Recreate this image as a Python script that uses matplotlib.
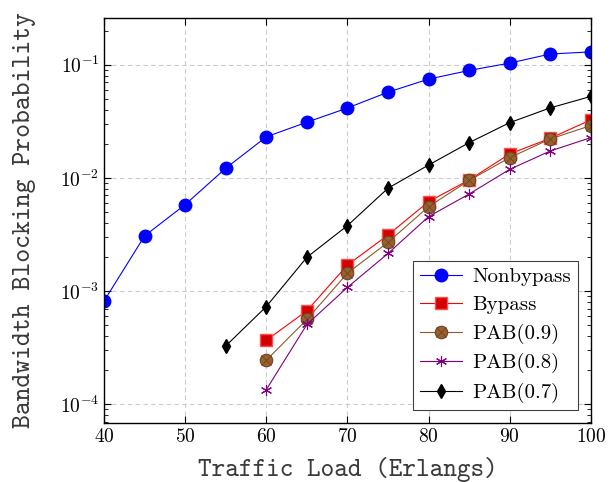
import matplotlib
matplotlib.use("Agg")
import matplotlib.pyplot as plt
from matplotlib.legend_handler import HandlerTuple

# Datos
load = [40, 45, 50, 55, 60, 65, 70, 75, 80, 85, 90, 95, 100]
nonbypass = [8.2e-4, 3.08e-3, 5.82e-3, 1.22e-2, 2.31e-2, 3.11e-2, 4.15e-2,
             5.73e-2, 7.47e-2, 8.91e-2, 0.1035, 0.1245, 0.130]

load_bp = [60, 65, 70, 75, 80, 85, 90, 95, 100]
bypass = [3.68e-4, 6.7e-4, 1.70e-3, 3.13e-3, 6.17e-3, 9.6e-3, 1.63e-2, 2.24e-2, 3.26e-2]
pab09 = [2.45e-4, 5.62e-4, 1.44e-3, 2.70e-3, 5.57e-3, 9.5e-3, 1.51e-2, 2.21e-2, 2.90e-2]
pab08 = [1.35e-4, 5.07e-4, 1.08e-3, 2.15e-3, 4.55e-3, 7.21e-3, 1.19e-2, 1.73e-2, 2.27e-2]

load_07 = [55, 60, 65, 70, 75, 80, 85, 90, 95, 100]
pab07 = [3.28e-4, 7.31e-4, 1.99e-3, 3.79e-3, 8.11e-3, 1.30e-2, 2.05e-2, 3.08e-2,
         4.16e-2, 5.25e-2]

x_ticks = [40, 50, 60, 70, 80, 90, 100]

plt.rcParams['mathtext.fontset'] = 'cm'
plt.rcParams['font.family'] = 'cmr10'
plt.rcParams['axes.formatter.use_mathtext'] = True

fig = plt.figure(figsize=(6.09, 4.82), dpi=100)
ax = fig.add_axes([0.171, 0.123, 0.799, 0.840])

brown = '#8c5a2e'
purple = '#800080'

l1, = ax.plot(load, nonbypass, color='blue', lw=0.8, marker='o', ms=9,
              mfc='blue', mec='blue')
l2, = ax.plot(load_bp, bypass, color='red', lw=0.8, marker='s', ms=8,
              mfc='#d40000', mec='#ff5050', mew=1.0)
l3, = ax.plot(load_bp, pab09, color=brown, lw=0.8, marker='o', ms=9,
              mfc='#99602e', mec='#6b4422', mew=0.8)
l3x, = ax.plot(load_bp, pab09, ls='none', marker='x', ms=6.5,
               mec='#6b4422', mew=0.6)
l4, = ax.plot(load_bp, pab08, color=purple, lw=0.8, marker=(6, 2, 0), ms=8,
              mec=purple, mew=0.8)
l5, = ax.plot(load_07, pab07, color='black', lw=0.8, marker='d', ms=7.5,
              mfc='black', mec='black')

ax.set_yscale('log')
ax.set_xlim(40, 100)
ax.set_ylim(6.87e-5, 0.26)
ax.set_xticks(x_ticks)
ax.set_xticklabels([f'${v}$' for v in x_ticks])
ax.set_yticks([1e-4, 1e-3, 1e-2, 1e-1])

ax.grid(True, which='major', color='#cccccc', ls=(0, (4, 3)), lw=0.8)
ax.tick_params(which='both', direction='in', top=True, right=True,
               labelsize=14)
ax.tick_params(which='major', length=5, width=0.8)
ax.tick_params(which='minor', length=3, width=0.6)
for s in ax.spines.values():
    s.set_linewidth(1.0)

ax.set_xlabel('Traffic Load (Erlangs)', fontfamily='cmtt10', fontsize=18.7,
              color='#3a3a3a', labelpad=8)
ax.set_ylabel('Bandwidth Blocking Probability', fontfamily='cmtt10',
              fontsize=19, color='#3a3a3a', labelpad=17)

leg = ax.legend([l1, l2, (l3, l3x), l4, l5],
                ['Nonbypass', 'Bypass', 'PAB(0.9)', 'PAB(0.8)', 'PAB(0.7)'],
                handler_map={tuple: HandlerTuple(ndivide=1)},
                loc='lower right', fontsize=15, fancybox=False,
                edgecolor='#404040', framealpha=1, handlelength=2.0,
                borderaxespad=0.6, labelspacing=0.45, borderpad=0.35,
                handletextpad=0.5)
leg.get_frame().set_linewidth(0.8)

fig.savefig('out.png', dpi=100)
